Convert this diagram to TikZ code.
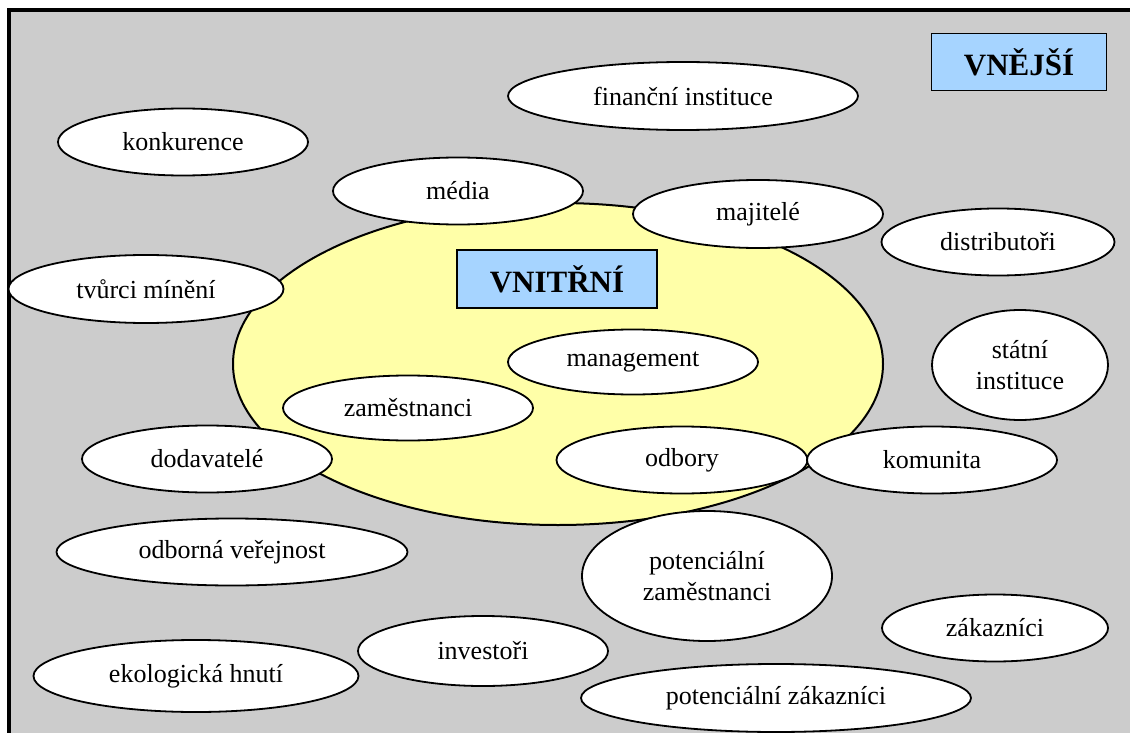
\documentclass[tikz,border=0pt]{standalone}
\usepackage{fontspec}
\setmainfont{Liberation Serif}
\usetikzlibrary{shapes.geometric}
\definecolor{bggray}{HTML}{CCCCCC}
\definecolor{inyellow}{HTML}{FFFFA8}
\definecolor{boxblue}{HTML}{A6D4FF}
\tikzset{
  oval/.style={ellipse, draw=black, line width=1.8pt, fill=white, inner sep=0pt,
    font=\fontsize{26}{31}\selectfont, align=center},
  labelbox/.style={rectangle, draw=black, line width=1.5pt, fill=boxblue, inner sep=0pt,
    font=\fontsize{31}{36}\selectfont\bfseries}
}
\begin{document}
\begin{tikzpicture}[x=1pt,y=-1pt]
\useasboundingbox (0,0) rectangle (1130,733);
% background and frame
\fill[white] (0,0) rectangle (1130,733);
\fill[bggray] (9,10) rectangle (1130,733);
\draw[line width=4pt] (9,740) -- (9,10) -- (1140,10);
% inner circle
\node[ellipse, draw=black, line width=2pt, fill=inyellow, minimum width=650pt, minimum height=322pt] (inner) at (558,364) {};
\node[labelbox, minimum width=200pt, minimum height=58pt] (vnitrni) at (557,279) {VNITŘNÍ};
\node[labelbox, minimum width=175pt, minimum height=57pt] (vnejsi) at (1019,62) {VNĚJŠÍ};
% stakeholders
\node[oval, minimum width=350pt, minimum height=68pt] (fin) at (683,96) {finanční instituce};
\node[oval, minimum width=250pt, minimum height=67pt] (konk) at (183,142) {konkurence};
\node[oval, minimum width=250pt, minimum height=67pt] (media) at (458,191) {média};
\node[oval, minimum width=250pt, minimum height=68pt] (maj) at (758,214) {majitelé};
\node[oval, minimum width=233pt, minimum height=67pt] (dist) at (998,242) {distributoři};
\node[oval, minimum width=275pt, minimum height=68pt] (tvurci) at (146,289) {tvůrci mínění};
\node[oval, minimum width=250pt, minimum height=65pt] (mgmt) at (633,362) {management};
\node[oval, minimum width=176pt, minimum height=110pt] (stat) at (1020,365) {státní\\instituce};
\node[oval, minimum width=250pt, minimum height=65pt] (zam) at (408,408) {zaměstnanci};
\node[oval, minimum width=250pt, minimum height=67pt] (dod) at (207,459) {dodavatelé};
\node[oval, minimum width=251pt, minimum height=67pt] (odb) at (682,460) {odbory};
\node[oval, minimum width=250pt, minimum height=67pt] (kom) at (932,460) {komunita};
\node[oval, minimum width=351pt, minimum height=67pt] (odbver) at (232,552) {odborná veřejnost};
\node[oval, minimum width=250pt, minimum height=130pt] (potzam) at (707,576) {potenciální\\zaměstnanci};
\node[oval, minimum width=226pt, minimum height=67pt] (zak) at (995,628) {zákazníci};
\node[oval, minimum width=250pt, minimum height=70pt] (inv) at (483,651) {investoři};
\node[oval, minimum width=325pt, minimum height=72pt] (eko) at (196,676) {ekologická hnutí};
\node[oval, minimum width=390pt, minimum height=68pt] (potzak) at (776,698) {potenciální zákazníci};
\end{tikzpicture}
\end{document}
